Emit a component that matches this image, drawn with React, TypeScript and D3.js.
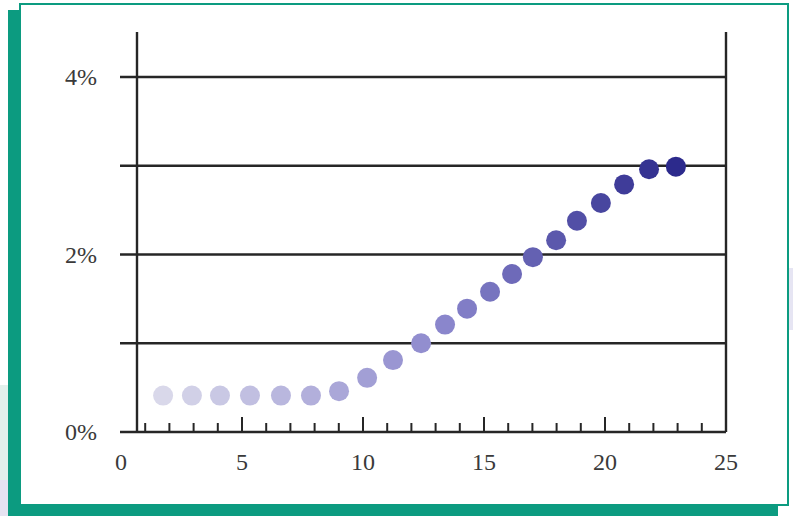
import React, { useEffect, useRef } from 'react';
import * as d3 from "d3";

// days (x) and share (%)
const days = [1.74, 2.93, 4.09, 5.33, 6.61, 7.85, 9.01, 10.17, 11.24, 12.40, 13.39, 14.30, 15.25, 16.16, 17.02, 17.98, 18.84, 19.83, 20.79, 21.82, 22.93];
const shares = [0.41, 0.41, 0.41, 0.41, 0.41, 0.41, 0.46, 0.61, 0.81, 1.00, 1.21, 1.39, 1.58, 1.78, 1.97, 2.16, 2.38, 2.58, 2.79, 2.96, 2.99];
const xTickLabels = [0, 5, 10, 15, 20, 25];
const yGridValues = [1, 2, 3, 4];
const yTickLabels = [0, 2, 4];

const W = 793, H = 516;
const TEAL = "#0c9b80";

function App() {
  const ref = useRef<SVGSVGElement | null>(null);

  useEffect(() => {
    if (ref.current == null) return;
    const svg = d3.select(ref.current);
    svg.selectAll("*").remove();

    // background bits outside the card
    svg.append("rect").attr("x", 0).attr("y", 385).attr("width", 9).attr("height", 95).attr("fill", "#e2f1ec");
    svg.append("rect").attr("x", 0).attr("y", 480).attr("width", 9).attr("height", 36).attr("fill", "#e6e3f1");
    svg.append("rect").attr("x", 789).attr("y", 268).attr("width", 4).attr("height", 62).attr("fill", "#e6e5f3");

    // teal backing + white card
    svg.append("rect").attr("x", 8).attr("y", 10).attr("width", 770).attr("height", 506).attr("fill", TEAL);
    svg.append("rect")
      .attr("x", 20).attr("y", 4).attr("width", 768).attr("height", 501)
      .attr("fill", "#fff").attr("stroke", TEAL).attr("stroke-width", 2);

    var x = d3.scaleLinear().domain([0, 25]).range([121, 726]);
    var y = d3.scaleLinear().domain([0, 4]).range([432, 77]);

    const axisLeft = 137, gridLeft = 120, top = 32;
    const ink = "#262626";

    // horizontal grid lines incl. baseline
    svg.append("g").selectAll("line")
      .data([0].concat(yGridValues))
      .enter().append("line")
      .attr("x1", gridLeft).attr("x2", x(25))
      .attr("y1", d => y(d)).attr("y2", d => y(d))
      .attr("stroke", ink).attr("stroke-width", 2.4);

    // left and right frame lines
    svg.append("line").attr("x1", axisLeft).attr("x2", axisLeft).attr("y1", top).attr("y2", y(0))
      .attr("stroke", ink).attr("stroke-width", 2.4);
    svg.append("line").attr("x1", x(25)).attr("x2", x(25)).attr("y1", top).attr("y2", y(0))
      .attr("stroke", ink).attr("stroke-width", 2.4);

    // x ticks pointing up from the baseline
    svg.append("g").selectAll("line")
      .data(d3.range(1, 25))
      .enter().append("line")
      .attr("x1", d => x(d)).attr("x2", d => x(d))
      .attr("y1", y(0))
      .attr("y2", d => y(0) - (d % 5 === 0 ? 15 : 9))
      .attr("stroke", ink).attr("stroke-width", 2);

    const font = "Liberation Serif, Times New Roman, DejaVu Serif, serif";

    svg.append("g").selectAll("text")
      .data(xTickLabels)
      .enter().append("text")
      .attr("x", d => x(d))
      .attr("y", 470)
      .attr("text-anchor", "middle")
      .style("font-family", font)
      .style("font-size", "24px")
      .attr("fill", "#3a3a3a")
      .text(d => String(d));

    svg.append("g").selectAll("text")
      .data(yTickLabels)
      .enter().append("text")
      .attr("x", 97)
      .attr("y", d => y(d) + 8)
      .attr("text-anchor", "end")
      .style("font-family", font)
      .style("font-size", "24px")
      .attr("fill", "#3a3a3a")
      .text(d => d + "%");

    // dots, shading from pale lavender to deep indigo
    const color = d3.scaleLinear<string>()
      .domain([0, 10, days.length - 1])
      .range(["#d9d8ea", "#8a86cc", "#2c2a8c"])
      .interpolate(d3.interpolateRgb);

    svg.append("g").selectAll("circle")
      .data(days)
      .enter().append("circle")
      .attr("cx", d => x(d))
      .attr("cy", (d, i) => y(shares[i]))
      .attr("r", 10)
      .attr("fill", (d, i) => color(i));
  }, []);

  return (
    <svg ref={ref} width={W} height={H}
      style={{ position: "absolute", left: 0, top: 0, background: "#fff" }} />
  );
}

export default App;
